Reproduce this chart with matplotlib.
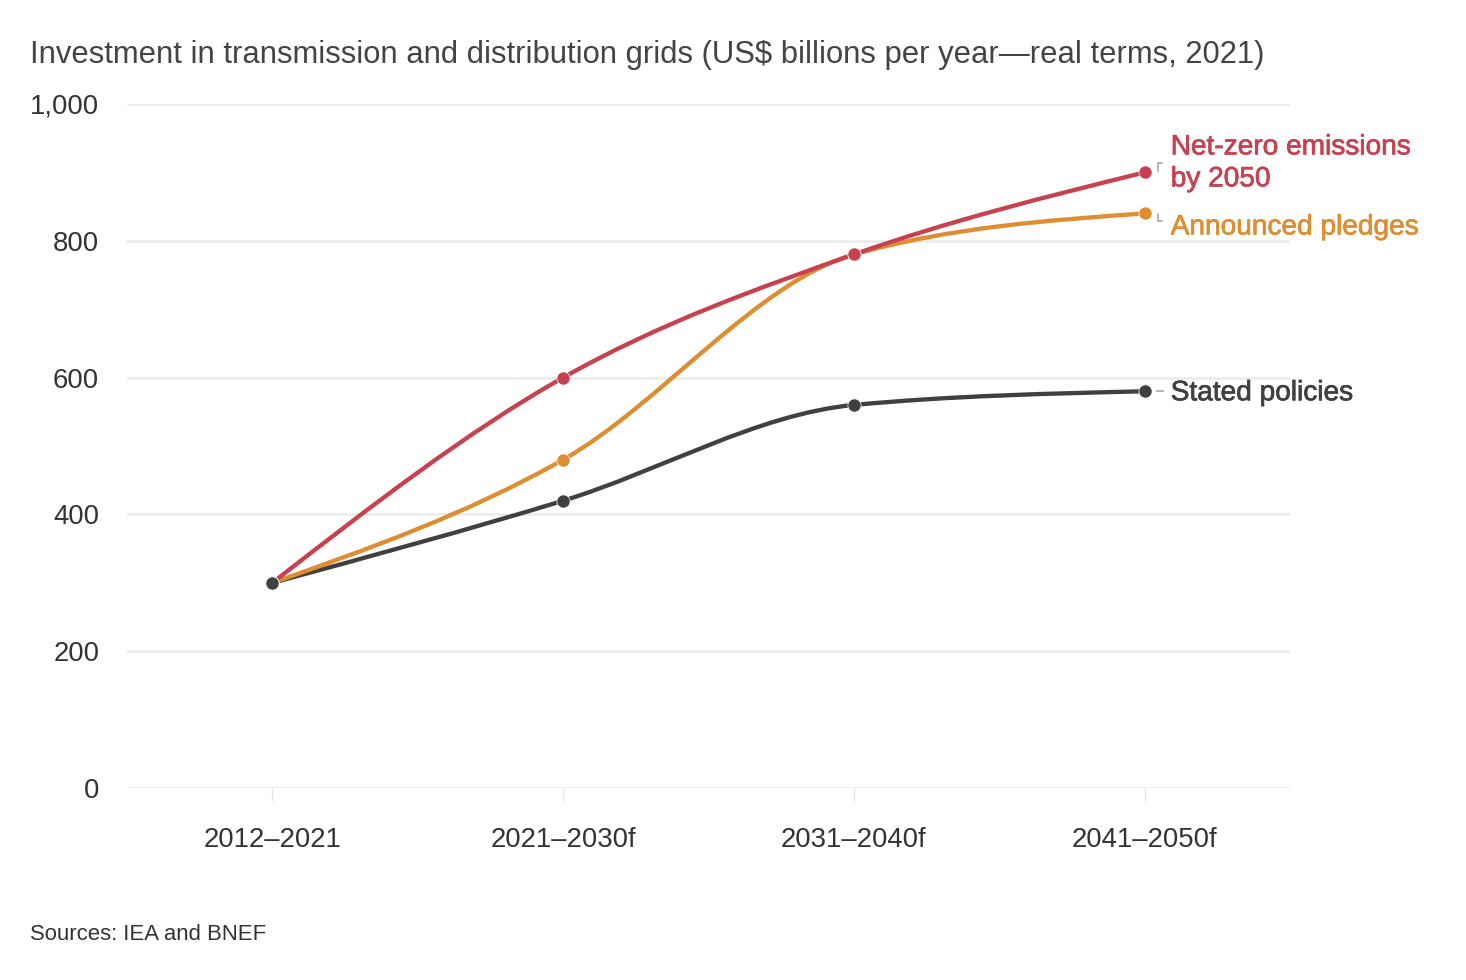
import numpy as np
import matplotlib
matplotlib.use("Agg")
import matplotlib.pyplot as plt
from matplotlib.path import Path
from matplotlib.patches import PathPatch
from matplotlib import transforms
import matplotlib.patheffects as pe

plt.rcParams['font.family'] = ['Liberation Sans', 'DejaVu Sans']

periods = ['2012–2021', '2021–2030f', '2031–2040f', '2041–2050f']
net_zero = [300, 600, 780, 900]
pledges = [300, 480, 780, 840]
stated = [300, 420, 560, 580]
y_ticks = [0, 200, 400, 600, 800, 1000]
y_tick_labels = ['0', '200', '400', '600', '800', '1,000']

RED = '#c8414f'
ORANGE = '#de8e31'
DARK = '#404040'
TEXT = '#333333'


def monotone_path(x, y):
    # d3 curveMonotoneX as cubic bezier segments
    x = np.asarray(x, float)
    y = np.asarray(y, float)
    n = len(x)
    h = np.diff(x)
    s = np.diff(y) / h
    t = np.zeros(n)
    for i in range(1, n - 1):
        p = (s[i - 1] * h[i] + s[i] * h[i - 1]) / (h[i - 1] + h[i])
        t[i] = (np.sign(s[i - 1]) + np.sign(s[i])) * min(abs(s[i - 1]), abs(s[i]), 0.5 * abs(p))
    t[0] = (3 * s[0] - t[1]) / 2
    t[-1] = (3 * s[-1] - t[-2]) / 2
    verts = [(x[0], y[0])]
    codes = [Path.MOVETO]
    for i in range(n - 1):
        dx = h[i] / 3
        verts += [(x[i] + dx, y[i] + dx * t[i]),
                  (x[i + 1] - dx, y[i + 1] - dx * t[i + 1]),
                  (x[i + 1], y[i + 1])]
        codes += [Path.CURVE4] * 3
    return Path(verts, codes)


fig = plt.figure(figsize=(14.66, 9.8), dpi=100)
ax = fig.add_axes([0.0866, 0.1959, 0.7934, 0.698])

xs = np.arange(len(periods))
for vals, col in [(stated, DARK), (pledges, ORANGE), (net_zero, RED)]:
    ax.add_patch(PathPatch(monotone_path(xs, vals), facecolor='none', edgecolor=col,
                           lw=3.1, capstyle='round', joinstyle='round', zorder=3))
    ax.plot(xs, vals, 'o', color=col, ms=9.5, mec='white', mew=0.5, zorder=4)
# first point is shared, stated on top
ax.plot(xs[0], stated[0], 'o', color=DARK, ms=9.5, mec='white', mew=0.5, zorder=5)

ax.set_xlim(-0.5, 3.5)
ax.set_ylim(0, 1000)
ax.set_yticks(y_ticks)
ax.set_yticklabels(y_tick_labels)
ax.set_xticks(xs)
ax.set_xticklabels(periods)
for s in ax.spines.values():
    s.set_visible(False)
ax.grid(axis='y', color='#ebebeb', lw=1.8)
ax.set_axisbelow(True)
ax.tick_params(axis='y', length=0, pad=20, labelsize=19.8, labelcolor=TEXT)
ax.tick_params(axis='x', length=9, width=1, color='#e6e6e6', pad=19, labelsize=19.8, labelcolor=TEXT)

# end labels with small leader lines
lbl_kw = dict(fontsize=20.2, va='center', ha='left', clip_on=False)
gray = '#a0a0a0'
last = xs[-1]
off = lambda dx, dy: transforms.offset_copy(ax.transData, fig=fig, x=dx, y=dy, units='dots')

for txt, yv, col, dy, in [('Net-zero emissions\nby 2050', net_zero[-1], RED, 9),
                          ('Announced pledges', pledges[-1], ORANGE, -14),
                          ('Stated policies', stated[-1], DARK, -2)]:
    ax.text(last, yv, txt, color=col, linespacing=1.3, transform=off(26, dy),
            path_effects=[pe.withStroke(linewidth=0.5, foreground=col)], **lbl_kw)

tr = ax.transData
def leader(xv, yv, pts):
    px, py = tr.transform((xv, yv))
    xx = [px + a for a, b in pts]
    yy = [py + b for a, b in pts]
    inv = fig.transFigure.inverted()
    fp = inv.transform(np.column_stack([xx, yy]))
    fig.add_artist(plt.Line2D(fp[:, 0], fp[:, 1], color=gray, lw=1.1))

fig.canvas.draw()
leader(last, net_zero[-1], [(13, 1), (13, 9), (17, 9)])
leader(last, pledges[-1], [(13, -1), (13, -8), (17, -8)])
leader(last, stated[-1], [(12, 0), (18, 0)])

fig.text(0.0205, 0.944, 'Investment in transmission and distribution grids (US$ billions per year\u2014real terms, 2021)',
         fontsize=22.3, color='#444444', va='center', ha='left')
fig.text(0.0205, 0.046, 'Sources: IEA and BNEF', fontsize=15.9, color=TEXT, va='center', ha='left')

fig.savefig('out.png', dpi=100)
